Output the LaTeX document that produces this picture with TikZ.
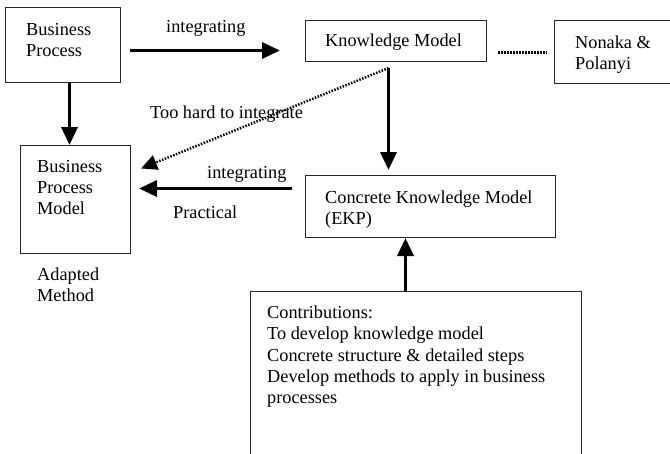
\documentclass[tikz,border=0pt]{standalone}
\usepackage{fontspec}
\setmainfont{Liberation Serif}
\usetikzlibrary{arrows.meta,calc}
\begin{document}
\begin{tikzpicture}[x=1pt,y=-1pt,
 box/.style={draw=black!85, line width=1pt, anchor=north west, inner sep=0pt},
 txt/.style={anchor=base west, inner sep=0pt, font=\fontsize{18.3}{21}\selectfont},
 arr/.style={line width=3.5pt, -{Triangle[length=18pt,width=16pt]}},
 dotarr/.style={line width=2.5pt, dash pattern=on 1.5pt off 1.5pt, -{Triangle[length=16pt,width=15pt]}},
 dotline/.style={line width=2.5pt, dash pattern=on 1.5pt off 1.5pt}]
\useasboundingbox (0,0) rectangle (670,453);
% boxes
\node[box, minimum width=115pt, minimum height=75pt] (bp) at (5,7) {};
\node[box, minimum width=181pt, minimum height=41pt] (km) at (305,20) {};
\node[box, minimum width=121pt, minimum height=63pt] (non) at (554,20) {};
\node[box, minimum width=110pt, minimum height=108pt] (bpm) at (20,145) {};
\node[box, minimum width=250pt, minimum height=62pt] (ckm) at (305,175) {};
\node[box, minimum width=331pt, minimum height=180pt] (con) at (250,291) {};
% texts
\node[txt] (tbp1) at (26,35) {Business};
\node[txt] (tbp2) at (26,56) {Process};
\node[txt] (tint1) at (166,32) {integrating};
\node[txt] (tkm) at (325,46) {Knowledge Model};
\node[txt] (tn1) at (575,48) {Nonaka \&};
\node[txt] (tn2) at (575,69) {Polanyi};
\node[txt] (thard) at (150,118) {Too hard to integrate};
\node[txt] (tbpm1) at (37,172) {Business};
\node[txt] (tbpm2) at (37,193) {Process};
\node[txt] (tbpm3) at (37,214) {Model};
\node[txt] (tint2) at (207,178) {integrating};
\node[txt] (tprac) at (173,218) {Practical};
\node[txt] (tad1) at (37,280) {Adapted};
\node[txt] (tad2) at (37,301) {Method};
\node[txt] (tckm1) at (325,203) {Concrete Knowledge Model};
\node[txt] (tckm2) at (325,224) {(EKP)};
\node[txt] (tc1) at (267,318) {Contributions:};
\node[txt] (tc2) at (267,339) {To develop knowledge model};
\node[txt] (tc3) at (267,361) {Concrete structure \& detailed steps};
\node[txt] (tc4) at (267,382) {Develop methods to apply in business};
\node[txt] (tc5) at (267,403) {processes};
% connectors
\draw[arr] ($(bp.east)+(9,5.5)$) -- ($(km.west)+(-25,9.5)$);
\draw[arr] ($(bp.south)+(6.5,0)$) -- ($(bpm.north)+(-6,0)$);
\draw[arr] ($(km.south)+(-7.5,6)$) -- ($(ckm.north)+(-42,-5)$);
\draw[dotarr] ($(km.south)+(-7.5,6)$) -- ($(bpm.east)+(10,-31)$);
\draw[arr] ($(ckm.west)+(-13,-18)$) -- ($(bpm.east)+(8,-11)$);
\draw[arr] ($(con.north)+(-10.5,0)$) -- ($(ckm.south)+(-25,0)$);
\draw[dotline] ($(km.east)+(11,11.5)$) -- ($(non.west)+(-7,0.5)$);
\end{tikzpicture}
\end{document}
